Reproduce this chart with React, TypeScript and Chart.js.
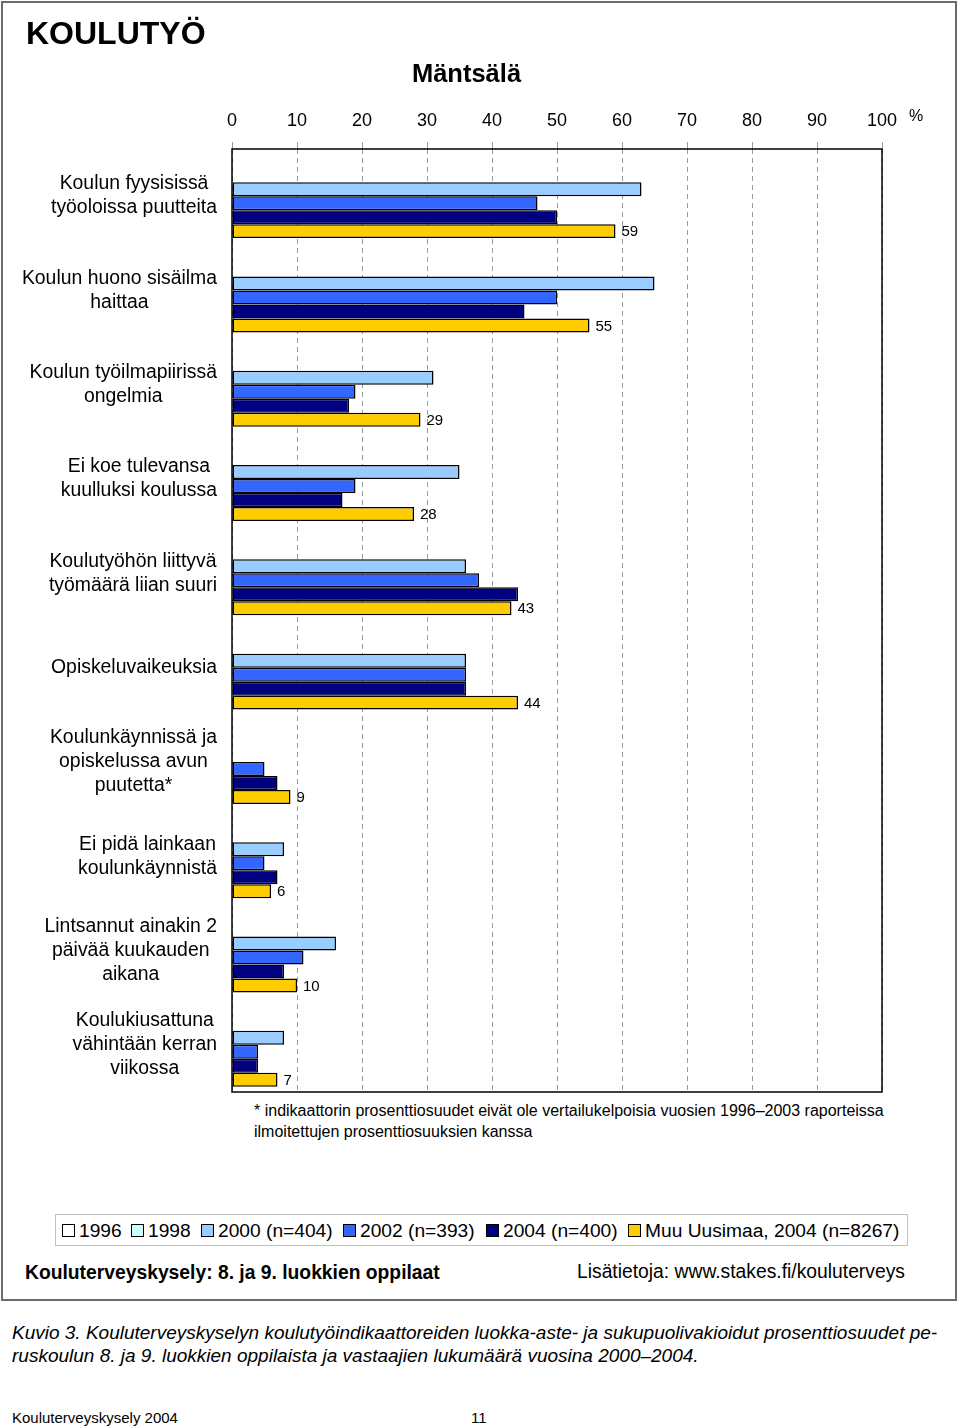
import React, { useEffect, useRef } from "react";
import { Chart, registerables } from "chart.js";

Chart.register(...registerables);

// ---------- data ----------
const categories: string[][] = [
  ["Koulun fyysisissä", "työoloissa puutteita"],
  ["Koulun huono sisäilma", "haittaa"],
  ["Koulun työilmapiirissä", "ongelmia"],
  ["Ei koe tulevansa", "kuulluksi koulussa"],
  ["Koulutyöhön liittyvä", "työmäärä liian suuri"],
  ["Opiskeluvaikeuksia"],
  ["Koulunkäynnissä ja", "opiskelussa avun", "puutetta*"],
  ["Ei pidä lainkaan", "koulunkäynnistä"],
  ["Lintsannut ainakin 2", "päivää kuukauden", "aikana"],
  ["Koulukiusattuna", "vähintään kerran", "viikossa"],
];

const values1996: (number | null)[] = [null, null, null, null, null, null, null, null, null, null];
const values1998: (number | null)[] = [null, null, null, null, null, null, null, null, null, null];
const values2000: (number | null)[] = [63, 65, 31, 35, 36, 36, null, 8, 16, 8];
const values2002: (number | null)[] = [47, 50, 19, 19, 38, 36, 5, 5, 11, 4];
const values2004: (number | null)[] = [50, 45, 18, 17, 44, 36, 7, 7, 8, 4];
const valuesMuu: (number | null)[] = [59, 55, 29, 28, 43, 44, 9, 6, 10, 7];

const seriesLabels = ["1996", "1998", "2000 (n=404)", "2002 (n=393)", "2004 (n=400)", "Muu Uusimaa, 2004 (n=8267)"];
const seriesColors = ["#FFFFFF", "#CCFFFF", "#99CCFF", "#3366FF", "#000080", "#FFCC00"];
const seriesValues = [values1996, values1998, values2000, values2002, values2004, valuesMuu];
const labelledSeries = 5;

const xTicks = [0, 10, 20, 30, 40, 50, 60, 70, 80, 90, 100];

const FONT = '"Liberation Sans", Arial, Helvetica, sans-serif';

const T: React.FC<{
  x: number;
  baseline: number;
  size: number;
  bold?: boolean;
  italic?: boolean;
  center?: boolean;
  children: React.ReactNode;
}> = ({ x, baseline, size, bold, italic, center, children }) => (
  <div
    style={{
      position: "absolute",
      left: x,
      top: baseline - 0.8465 * size,
      fontSize: size,
      lineHeight: `${size}px`,
      fontWeight: bold ? "bold" : "normal",
      fontStyle: italic ? "italic" : "normal",
      whiteSpace: "nowrap",
      transform: center ? "translateX(-50%)" : undefined,
    }}
  >
    {children}
  </div>
);

const legendPos = [62, 131, 201, 343, 486, 628];

export default function App() {
  const canvasRef = useRef<HTMLCanvasElement | null>(null);

  useEffect(() => {
    const canvas = canvasRef.current;
    if (!canvas) return;

    const labelPlugin = {
      id: "customLabels",
      afterDatasetsDraw(chart: any) {
        const ctx = chart.ctx as CanvasRenderingContext2D;
        const area = chart.chartArea;
        const yScale = chart.scales.y;
        ctx.save();
        // category labels
        ctx.font = `19.4px ${FONT}`;
        ctx.fillStyle = "#000";
        ctx.textBaseline = "middle";
        ctx.textAlign = "center";
        categories.forEach((lines, i) => {
          const cy = yScale.getPixelForValue(i);
          const w = Math.max(...lines.map((l) => ctx.measureText(l).width));
          const cx = 217 - w / 2;
          lines.forEach((l, j) => {
            ctx.fillText(l, cx, cy + (j - (lines.length - 1) / 2) * 24);
          });
        });
        // value labels on last series
        const meta = chart.getDatasetMeta(labelledSeries);
        ctx.font = `15px ${FONT}`;
        ctx.textAlign = "left";
        meta.data.forEach((bar: any, i: number) => {
          const v = seriesValues[labelledSeries][i];
          if (v == null) return;
          ctx.fillText(String(v), bar.x + 6, bar.y + 1);
        });
        // plot border
        ctx.strokeStyle = "#000";
        ctx.lineWidth = 1.5;
        ctx.strokeRect(area.left, area.top, area.right - area.left, area.bottom - area.top);
        ctx.restore();
      },
    };

    const chart = new Chart(canvas, {
      type: "bar",
      data: {
        labels: categories.map((c) => c.join(" ")),
        datasets: seriesLabels.map((label, k) => ({
          label,
          data: seriesValues[k],
          backgroundColor: seriesColors[k],
          borderColor: "#000",
          borderWidth: 1.5,
          borderSkipped: false,
          categoryPercentage: 0.89,
          barPercentage: 1,
        })),
      },
      options: {
        indexAxis: "y",
        animation: false,
        responsive: false,
        maintainAspectRatio: false,
        layout: { padding: { left: 232, right: 78, top: 101, bottom: 8 } },
        plugins: {
          legend: { display: false },
          tooltip: { enabled: false },
          title: { display: false },
        },
        scales: {
          x: {
            position: "top",
            min: 0,
            max: 100,
            afterBuildTicks: (scale: any) => {
              scale.ticks = xTicks.map((v) => ({ value: v }));
            },
            afterFit: (scale: any) => {
              scale.height = 48;
            },
            ticks: {
              color: "#000",
              font: { family: FONT, size: 18 },
              padding: 10,
              maxRotation: 0,
            },
            grid: {
              color: "#9a9a9a",
              lineWidth: 1,
              drawTicks: true,
              tickLength: 7,
              tickColor: "#9a9a9a",
              tickBorderDash: [],
            },
            border: { display: false, dash: [5, 4] },
          },
          y: {
            display: false,
          },
        },
      },
      plugins: [labelPlugin],
    } as any);

    return () => chart.destroy();
  }, []);

  return (
    <div
      style={{
        position: "relative",
        width: 960,
        height: 1427,
        background: "#fff",
        color: "#000",
        fontFamily: FONT,
        overflow: "hidden",
      }}
    >
      <style>{"body{margin:0;}"}</style>
      <div
        style={{
          position: "absolute",
          left: 1,
          top: 1,
          width: 956,
          height: 1300,
          border: "2px solid #6b6b6b",
          boxSizing: "border-box",
        }}
      />
      <canvas
        ref={canvasRef}
        width={960}
        height={1100}
        style={{ position: "absolute", left: 0, top: 0, width: 960, height: 1100 }}
      />
      <T x={26} baseline={44} size={32} bold>
        KOULUTYÖ
      </T>
      <T x={466.5} baseline={83} size={25.5} bold center>
        Mäntsälä
      </T>
      <T x={909} baseline={122} size={16}>
        %
      </T>
      <T x={254} baseline={1117} size={16}>
        * indikaattorin prosenttiosuudet eivät ole vertailukelpoisia vuosien 1996–2003 raporteissa
      </T>
      <T x={254} baseline={1138} size={16}>
        ilmoitettujen prosenttiosuuksien kanssa
      </T>
      <div
        style={{
          position: "absolute",
          left: 55,
          top: 1214,
          width: 853,
          height: 32,
          border: "1px solid #c0c0c0",
          boxSizing: "border-box",
        }}
      />
      {seriesLabels.map((label, k) => (
        <React.Fragment key={label}>
          <div
            style={{
              position: "absolute",
              left: legendPos[k],
              top: 1224,
              width: 13,
              height: 13,
              background: seriesColors[k],
              border: "1px solid #000",
              boxSizing: "border-box",
            }}
          />
          <T x={legendPos[k] + 17} baseline={1237} size={19.2}>
            {label}
          </T>
        </React.Fragment>
      ))}
      <T x={25} baseline={1279} size={19.3} bold>
        Kouluterveyskysely: 8. ja 9. luokkien oppilaat
      </T>
      <T x={577} baseline={1278} size={19.3}>
        Lisätietoja: www.stakes.fi/kouluterveys
      </T>
      <T x={12} baseline={1339} size={19} italic>
        Kuvio 3. Kouluterveyskyselyn koulutyöindikaattoreiden luokka-aste- ja sukupuolivakioidut prosenttiosuudet pe-
      </T>
      <T x={12} baseline={1362} size={19} italic>
        ruskoulun 8. ja 9. luokkien oppilaista ja vastaajien lukumäärä vuosina 2000–2004.
      </T>
      <T x={12} baseline={1423} size={15}>
        Kouluterveyskysely 2004
      </T>
      <T x={471} baseline={1423} size={15}>
        11
      </T>
    </div>
  );
}
